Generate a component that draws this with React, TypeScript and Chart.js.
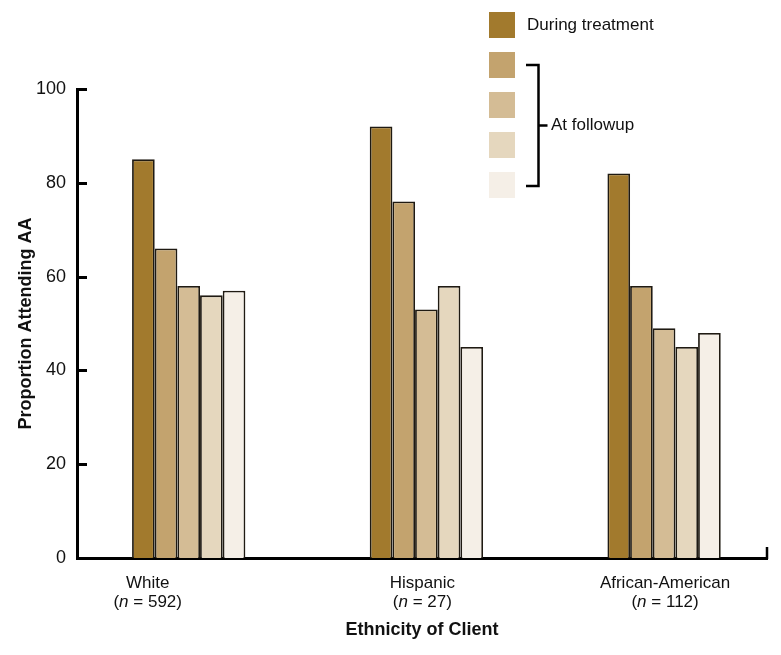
import { useEffect, useRef } from 'react';
import { Chart, registerables } from 'chart.js';

Chart.register(...registerables);

// ---- data ----
const CATEGORIES = ['White', 'Hispanic', 'African-American'];
const SAMPLE_SIZES = [592, 27, 112];
const SERIES_LABELS = ['During treatment', 'At followup 1', 'At followup 2', 'At followup 3', 'At followup 4'];
const DURING_TREATMENT = [85, 92, 82];
const FOLLOWUP_1 = [66, 76, 58];
const FOLLOWUP_2 = [58, 53, 49];
const FOLLOWUP_3 = [56, 58, 45];
const FOLLOWUP_4 = [57, 45, 48];
const SERIES = [DURING_TREATMENT, FOLLOWUP_1, FOLLOWUP_2, FOLLOWUP_3, FOLLOWUP_4];
const Y_TICKS = [0, 20, 40, 60, 80, 100];
const LEGEND_MAIN = 'During treatment';
const LEGEND_GROUP = 'At followup';
const X_TITLE = 'Ethnicity of Client';
const Y_TITLE = 'Proportion Attending AA';

// ---- styles ----
const COLORS = ['#A27A2D', '#C3A36E', '#D4BC95', '#E5D7BE', '#F5EFE7'];
const FONT = '"Liberation Sans", Arial, Helvetica, sans-serif';
const TEXT = '#111111';
const X_MIN = -0.47;
const X_MAX = 2.433;
const LABEL_NUDGE = [-41, -4, 1];

const decorations = {
  id: 'decorations',
  afterDraw(chart: any) {
    const { ctx, chartArea } = chart;
    const x = chart.scales.x;
    const y = chart.scales.y;
    ctx.save();
    ctx.strokeStyle = '#000';
    ctx.lineCap = 'butt';

    // inward y ticks
    ctx.lineWidth = 3;
    y.ticks.forEach((t: any) => {
      if (t.value === 0) return;
      const py = Math.round(y.getPixelForValue(t.value)) + 0.5;
      ctx.beginPath();
      ctx.moveTo(chartArea.left - 1, py);
      ctx.lineTo(chartArea.left + 10, py);
      ctx.stroke();
    });
    // right end tick on x axis
    ctx.lineWidth = 2.5;
    ctx.beginPath();
    ctx.moveTo(chartArea.right, chartArea.bottom + 1);
    ctx.lineTo(chartArea.right, chartArea.bottom - 11);
    ctx.stroke();

    // x category labels
    ctx.fillStyle = TEXT;
    ctx.textBaseline = 'middle';
    const regular = `17px ${FONT}`;
    const italic = `italic 17px ${FONT}`;
    CATEGORIES.forEach((cat, i) => {
      const cx = x.getPixelForValue(i) + LABEL_NUDGE[i];
      ctx.font = regular;
      ctx.textAlign = 'center';
      ctx.fillText(cat, cx, chartArea.bottom + 25);
      const a = '(';
      const b = 'n';
      const c = ` = ${SAMPLE_SIZES[i]})`;
      ctx.font = regular;
      const wa = ctx.measureText(a).width;
      const wc = ctx.measureText(c).width;
      ctx.font = italic;
      const wb = ctx.measureText(b).width;
      let sx = cx - (wa + wb + wc) / 2;
      const ly = chartArea.bottom + 44;
      ctx.textAlign = 'left';
      ctx.font = regular;
      ctx.fillText(a, sx, ly);
      sx += wa;
      ctx.font = italic;
      ctx.fillText(b, sx, ly);
      sx += wb;
      ctx.font = regular;
      ctx.fillText(c, sx, ly);
    });

    // legend
    const LX = 489;
    const LS = 26;
    const LY0 = 12;
    const LDY = 40;
    chart.data.datasets.forEach((ds: any, i: number) => {
      ctx.fillStyle = ds.backgroundColor;
      ctx.fillRect(LX, LY0 + i * LDY, LS, LS);
    });
    ctx.fillStyle = TEXT;
    ctx.font = regular;
    ctx.textAlign = 'left';
    ctx.fillText(LEGEND_MAIN, 527, LY0 + LS / 2);
    // bracket
    const bx = 538.5;
    const bTop = LY0 + LDY + 13;
    const bBot = LY0 + 4 * LDY + 14;
    const bMid = (bTop + bBot) / 2;
    ctx.lineWidth = 2.5;
    ctx.beginPath();
    ctx.moveTo(526, bTop);
    ctx.lineTo(bx, bTop);
    ctx.lineTo(bx, bBot);
    ctx.lineTo(526, bBot);
    ctx.stroke();
    ctx.beginPath();
    ctx.moveTo(bx, bMid);
    ctx.lineTo(bx + 9, bMid);
    ctx.stroke();
    ctx.fillText(LEGEND_GROUP, 551, bMid);
    ctx.restore();
  },
};

export default function App() {
  const ref = useRef<HTMLCanvasElement | null>(null);
  useEffect(() => {
    if (!ref.current) return;
    const chart = new Chart(ref.current, {
      type: 'bar',
      data: {
        datasets: SERIES.map((vals, s) => ({
          label: SERIES_LABELS[s],
          data: CATEGORIES.map((_, i) => ({ x: i, y: vals[i] })),
          backgroundColor: COLORS[s],
          borderColor: '#1f1a12',
          borderWidth: 1.8,
          categoryPercentage: 0.4767,
          barPercentage: 1,
        })),
      },
      options: {
        animation: false,
        responsive: false,
        layout: { padding: { left: 0, top: 89, right: 14, bottom: 0 } },
        plugins: { legend: { display: false }, tooltip: { enabled: false } },
        scales: {
          x: {
            type: 'linear',
            min: X_MIN,
            max: X_MAX,
            offset: false,
            grid: { display: false, tickLength: 0 },
            border: { display: true, color: '#000', width: 3 },
            ticks: { display: false },
            afterBuildTicks: (s: any) => {
              s.ticks = CATEGORIES.map((_, i) => ({ value: i }));
            },
            afterFit: (s: any) => {
              s.height = 97;
            },
            title: {
              display: true,
              text: X_TITLE,
              color: TEXT,
              font: { family: FONT, size: 18, weight: 'bold' },
              padding: { top: 0, bottom: 14 },
            },
          },
          y: {
            min: 0,
            max: 100,
            grid: { display: false, drawTicks: false, tickLength: 0 },
            border: { display: true, color: '#000', width: 3 },
            afterBuildTicks: (s: any) => {
              s.ticks = Y_TICKS.map((v) => ({ value: v }));
            },
            afterFit: (s: any) => {
              s.width = 77;
            },
            ticks: {
              color: TEXT,
              padding: 11,
              font: { family: FONT, size: 18 },
            },
            title: {
              display: true,
              text: Y_TITLE,
              color: TEXT,
              font: { family: FONT, size: 18, weight: 'bold' },
              padding: { top: 15, bottom: 0 },
            },
          },
        },
      },
      plugins: [decorations],
    } as any);
    return () => chart.destroy();
  }, []);
  return (
    <div style={{ position: 'fixed', left: 0, top: 0, width: 781, height: 655, background: '#fff' }}>
      <canvas ref={ref} width={781} height={655} style={{ display: 'block' }} />
    </div>
  );
}
